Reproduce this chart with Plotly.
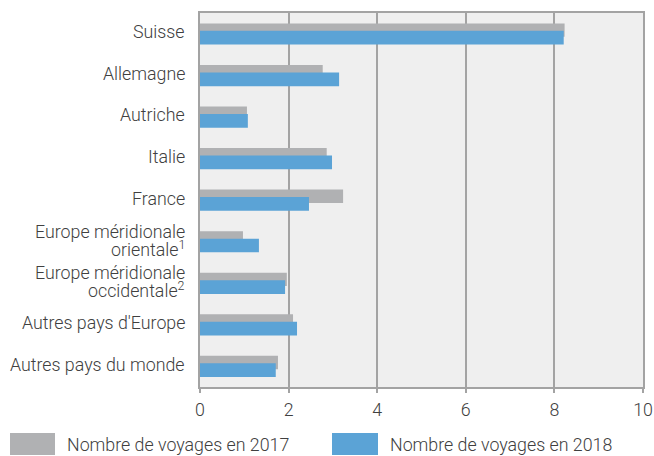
import plotly.graph_objects as go

categories = [
    "Suisse",
    "Allemagne",
    "Autriche",
    "Italie",
    "France",
    "Europe méridionale<br>orientale<sup>1</sup>",
    "Europe méridionale<br>occidentale<sup>2</sup>",
    "Autres pays d'Europe",
    "Autres pays du monde",
]
voyages_2017 = [8.23, 2.77, 1.06, 2.86, 3.23, 0.97, 1.96, 2.10, 1.76]
voyages_2018 = [8.21, 3.14, 1.08, 2.98, 2.46, 1.33, 1.92, 2.19, 1.71]
series_names = ["Nombre de voyages en 2017", "Nombre de voyages en 2018"]
x_ticks = [0, 2, 4, 6, 8, 10]

GRAY = "#b0b1b3"
BLUE = "#5ba3d6"
TEXT = "#404040"
LINE = "#a3a3a3"
FONT = "Roboto"
FS = 17.8
LINE_GAP = 17  # px between lines of two-line category labels

W, H = 654, 456
ML, MR, MT, MB = 200, 11, 13, 69
PW, PH = W - ML - MR, H - MT - MB


def px_to_paper_x(px):
    return (px - ML) / PW


def px_to_paper_y(py):
    return (H - MB - py) / PH


fig = go.Figure()
fig.add_trace(go.Bar(
    y=categories, x=voyages_2017, orientation="h", name=series_names[0],
    marker=dict(color=GRAY, line=dict(width=0)), width=0.32, offset=-0.25,
    showlegend=False,
))
fig.add_trace(go.Bar(
    y=categories, x=voyages_2018, orientation="h", name=series_names[1],
    marker=dict(color=BLUE, line=dict(width=0)), width=0.33, offset=-0.07,
    showlegend=False,
))

# Category labels (tight line spacing for the two-line ones)
label_font = dict(family=FONT, size=FS, color=TEXT, weight=300)
for cat in categories:
    lines = cat.split("<br>")
    n = len(lines)
    for i, ln in enumerate(lines):
        shift = ((n - 1) / 2 - i) * LINE_GAP + 2
        fig.add_annotation(text=ln, xref="paper", yref="y", x=0, y=cat,
                           xanchor="right", yanchor="middle", xshift=-14,
                           yshift=shift, showarrow=False, borderpad=0,
                           font=label_font)

# Legend drawn with large swatches, as in the reference
legend_items = [(series_names[0], GRAY, 10, 55, 66), (series_names[1], BLUE, 332, 378, 389)]
for name, col, x0, x1, tx in legend_items:
    fig.add_shape(type="rect", xref="paper", yref="paper",
                  x0=px_to_paper_x(x0), x1=px_to_paper_x(x1),
                  y0=px_to_paper_y(433), y1=px_to_paper_y(455),
                  fillcolor=col, line=dict(width=0))
    fig.add_annotation(text=name, xref="paper", yref="paper",
                       x=px_to_paper_x(tx), y=px_to_paper_y(444.5),
                       xanchor="left", yanchor="middle", showarrow=False,
                       borderpad=0, font=label_font)

fig.update_layout(
    width=W, height=H,
    margin=dict(l=ML, r=MR, t=MT, b=MB, autoexpand=False),
    barmode="overlay",
    plot_bgcolor="#efefef",
    paper_bgcolor="white",
    font=dict(family=FONT, size=FS, color=TEXT, weight=300),
)
fig.update_xaxes(
    range=[0, 10], tickvals=x_ticks, ticktext=[str(v) for v in x_ticks],
    showgrid=True, gridcolor=LINE, gridwidth=1.5,
    showline=True, linecolor=LINE, linewidth=2, mirror=True,
    ticks="outside", ticklen=4, tickcolor=LINE, tickwidth=1.5,
    zeroline=False, ticklabelstandoff=2, automargin=False,
    tickfont=label_font,
    fixedrange=True,
)
fig.update_yaxes(
    autorange="reversed", showgrid=False,
    showline=True, linecolor=LINE, linewidth=2, mirror=True,
    ticks="", showticklabels=False, automargin=False,
    fixedrange=True,
)

fig.write_html("out.html", post_script="document.body.style.margin='0';",
               config={"displayModeBar": False})
